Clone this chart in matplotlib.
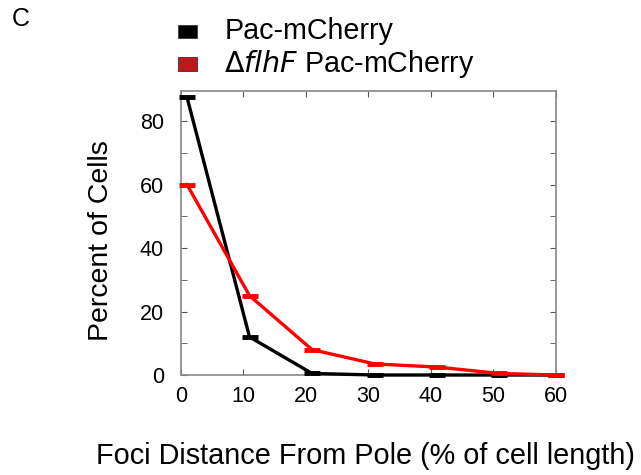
import matplotlib.pyplot as plt
from matplotlib.patches import Rectangle

plt.rcParams['font.family'] = ['Liberation Sans', 'DejaVu Sans']

# Daten
distance = [1, 11, 21, 31, 41, 51, 60]
wt = [87.5, 12, 0.5, 0, 0, 0, 0]
flhf = [60, 25, 8, 3.5, 2.5, 0.5, 0]
labels = ['Pac-mCherry', r'$\Delta$$\it{flhF}$ Pac-mCherry']

fig = plt.figure(figsize=(6.41, 4.75), dpi=100)
ax = fig.add_axes([0.282, 0.2105, 0.585, 0.598])

ax.plot(distance, wt, color='black', lw=2.4, marker='_', ms=11, mew=3.5, clip_on=False, zorder=3)
ax.plot(distance, flhf, color='#ff0000', lw=2.4, marker='_', ms=11, mew=3.5, clip_on=False, zorder=4)

ax.set_xlim(0, 60)
ax.set_ylim(0, 89.5)
ax.set_xticks(range(0, 61, 10))
ax.set_yticks(range(0, 81, 20))
ax.set_yticks(range(10, 90, 20), minor=True)
ax.tick_params(which='both', direction='in', top=True, right=True, labelsize=15.5, length=4, color='#555555')
ax.tick_params(axis='x', pad=8)
ax.tick_params(axis='y', pad=12)
for s in ax.spines.values():
    s.set_color('#888888')
    s.set_linewidth(1.2)

ax.set_ylabel('Percent of Cells', fontsize=20.5, labelpad=19)
ax.yaxis.label.set_y(0.475)
fig.text(0.15, 0.04, 'Foci Distance From Pole (% of cell length)', fontsize=20.8, va='center')
fig.text(0.018, 0.96, 'C', fontsize=18, va='center')

# Egen forklaring
colors = ['black', '#c0171c']
ys = [0.934, 0.865]
for lab, c, y in zip(labels, colors, ys):
    fig.patches.append(Rectangle((0.277, y - 0.014), 0.031, 0.028, transform=fig.transFigure,
                                 facecolor=c, edgecolor='#333333', lw=0.6))
    fig.text(0.35, y, lab, fontsize=20.6, va='center')

fig.savefig('out.png', dpi=100)
